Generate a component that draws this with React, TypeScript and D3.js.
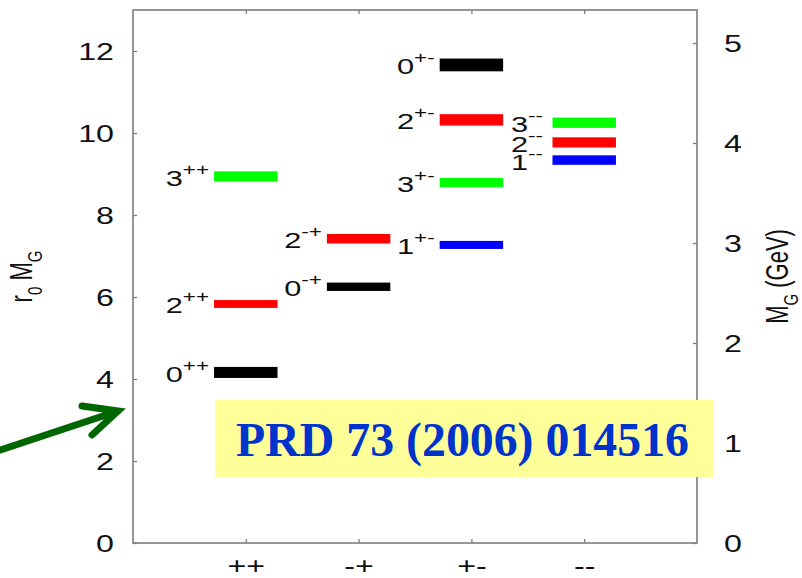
import { useEffect, useRef } from "react"
import * as d3 from "d3"

// glueball spectrum, r0 * mass, grouped by PC
const categories = ["++", "-+", "+-", "--"]
const spins = [0, 2, 3, 0, 2, 0, 2, 3, 1, 3, 2, 1]
const parities = ["++", "++", "++", "-+", "-+", "+-", "+-", "+-", "+-", "--", "--", "--"]
const masses = [4.16, 5.83, 8.94, 6.25, 7.42, 11.66, 10.32, 8.79, 7.27, 10.25, 9.77, 9.34]
const statErrors = [0.11, 0.05, 0.06, 0.06, 0.07, 0.07, 0.07, 0.03, 0.04, 0.04, 0.04, 0.04]
const sysErrors = [0.04, 0.06, 0.09, 0.06, 0.07, 0.12, 0.10, 0.09, 0.07, 0.10, 0.10, 0.09]
const leftTicks = [0, 2, 4, 6, 8, 10, 12]
const rightTicks = [0, 1, 2, 3, 4, 5]
const r0Inverse = 0.41 // GeV
const reference = "PRD 73 (2006) 014516"

const svgWidth = 802
const svgHeight = 578
const marginLeft = 133
const marginRight = 105
const marginTop = 10
const marginBottom = 35
const stretch = 1.4
const fontSans = "'Liberation Sans', Arial, Helvetica, sans-serif"
const frameColor = "#7c7c7c"
const spinColors = ["#000000", "#0000ff", "#ff0000", "#00ff00"]
const labelOffsets = [0.71, 0.66, 0.66, 0.65]

const App = () => {
  const svgRef = useRef<SVGSVGElement>(null)

  useEffect(() => {
    const svg = d3.select(svgRef.current)
    svg.selectAll("*").remove()
    svg
      .attr("width", svgWidth)
      .attr("height", svgHeight)
      .attr("viewBox", [0, 0, svgWidth, svgHeight].join(" "))
      .attr("font-family", fontSans)

    svg.append("rect").attr("width", svgWidth).attr("height", svgHeight).attr("fill", "#fff")

    // scales
    const x = d3.scaleLinear()
      .domain([0, categories.length + 1])
      .range([marginLeft, svgWidth - marginRight])
    const y = d3.scaleLinear()
      .domain([0, 13])
      .range([svgHeight - marginBottom, marginTop])
    const yGeV = d3.scaleLinear()
      .domain(y.domain().map(v => v * r0Inverse))
      .range(y.range())

    const styleAxis = (g: any, dx: number, dy: number) => g
      .call((g: any) => g.select(".domain").remove())
      .call((g: any) => g.selectAll(".tick line").attr("stroke", frameColor).attr("stroke-width", 1.3))
      .call((g: any) => g.selectAll(".tick text")
        .attr("x", null).attr("y", null).attr("dy", null)
        .attr("fill", "#111")
        .attr("font-size", 23)
        .attr("font-family", fontSans)
        .attr("transform", `translate(${dx},${dy}) scale(${stretch},1)`))

    // axes
    svg.append("g")
      .attr("transform", `translate(${marginLeft},0)`)
      .call(d3.axisLeft(y).tickValues(leftTicks).tickFormat(d3.format("d")).tickSizeInner(-4).tickSizeOuter(0))
      .call((g: any) => styleAxis(g, -19, 8))
    svg.append("g")
      .attr("transform", `translate(${svgWidth - marginRight},0)`)
      .call(d3.axisRight(yGeV).tickValues(rightTicks).tickFormat(d3.format("d")).tickSizeInner(-4).tickSizeOuter(0))
      .call((g: any) => styleAxis(g, 27, 8))
    svg.append("g")
      .attr("transform", `translate(0,${svgHeight - marginBottom})`)
      .call(d3.axisBottom(x).tickValues(d3.range(1, categories.length + 1))
        .tickFormat((d: any) => categories[d - 1]).tickSizeInner(-4).tickSizeOuter(0))
      .call((g: any) => styleAxis(g, 0, 31))
    svg.append("g")
      .attr("transform", `translate(0,${marginTop})`)
      .call(d3.axisTop(x).tickValues(d3.range(1, categories.length + 1))
        .tickFormat(() => "").tickSizeInner(-4).tickSizeOuter(0))
      .call((g: any) => styleAxis(g, 0, 0))

    // frame
    svg.append("rect")
      .attr("x", x(0))
      .attr("y", y(13))
      .attr("width", x(categories.length + 1) - x(0))
      .attr("height", y(0) - y(13))
      .attr("fill", "none")
      .attr("stroke", frameColor)
      .attr("stroke-width", 1.6)

    const states = masses.map((m, i) => ({
      spin: spins[i],
      pc: parities[i],
      cat: categories.indexOf(parities[i]) + 1,
      mass: m,
      err: Math.sqrt(statErrors[i] ** 2 + sysErrors[i] ** 2),
    }))

    // levels
    svg.append("g")
      .selectAll("rect")
      .data(states)
      .join("rect")
        .attr("x", d => x(d.cat - 0.275))
        .attr("width", d => x(d.cat + 0.275) - x(d.cat - 0.275))
        .attr("y", d => y(d.mass + d.err))
        .attr("height", d => y(d.mass - d.err) - y(d.mass + d.err))
        .attr("fill", d => spinColors[d.spin])
        .attr("stroke", d => spinColors[d.spin])
        .attr("stroke-width", 1.4)

    // level labels J^PC
    const labels = svg.append("g")
      .selectAll("text")
      .data(states)
      .join("text")
        .attr("transform", d => `translate(${x(d.cat - labelOffsets[d.cat - 1])},${y(d.mass) + 9.5}) scale(${stretch},1)`)
        .attr("font-size", 22)
        .attr("fill", "#111")
    labels.append("tspan").text(d => d.spin)
    labels.append("tspan").attr("font-size", 16).attr("dy", -11).text(d => d.pc)

    // axis titles
    const leftTitle = svg.append("text")
      .attr("transform", `translate(32,${(y(0) + y(13)) / 2}) scale(${stretch},1) rotate(-90)`)
      .attr("text-anchor", "middle")
      .attr("font-size", 22)
      .attr("fill", "#111")
    leftTitle.append("tspan").text("r")
    leftTitle.append("tspan").attr("font-size", 15).attr("dy", 7).text("0")
    leftTitle.append("tspan").attr("dy", -7).text(" M")
    leftTitle.append("tspan").attr("font-size", 15).attr("dy", 7).text("G")

    const rightTitle = svg.append("text")
      .attr("transform", `translate(788,${(y(0) + y(13)) / 2}) scale(${stretch},1) rotate(-90)`)
      .attr("text-anchor", "middle")
      .attr("font-size", 22)
      .attr("fill", "#111")
    rightTitle.append("tspan").text("M")
    rightTitle.append("tspan").attr("font-size", 15).attr("dy", 7).text("G")
    rightTitle.append("tspan").attr("dy", -7).text(" (GeV)")

    // reference sticker
    const boxLeft = x(0.727)
    const boxRight = x(5.142)
    svg.append("rect")
      .attr("x", boxLeft)
      .attr("y", y(3.49))
      .attr("width", boxRight - boxLeft)
      .attr("height", y(1.61) - y(3.49))
      .attr("fill", "#ffff99")
    svg.append("text")
      .attr("x", boxLeft + 21)
      .attr("y", y(2.13))
      .attr("font-family", "'Liberation Serif', 'Times New Roman', serif")
      .attr("font-weight", "bold")
      .attr("font-size", 48)
      .attr("fill", "#0033cc")
      .attr("textLength", 453)
      .attr("lengthAdjust", "spacingAndGlyphs")
      .text(reference)

    // arrow pointing at the axis
    const tipX = x(0) - 15
    const tipY = y(3.22)
    svg.append("path")
      .attr("d", `M${tipX - 140},${tipY + 46.5}L${tipX},${tipY}M${tipX - 36},${tipY - 5}L${tipX},${tipY}L${tipX - 26},${tipY + 24}`)
      .attr("fill", "none")
      .attr("stroke", "#006600")
      .attr("stroke-width", 7)
      .attr("stroke-linecap", "round")
      .attr("stroke-linejoin", "miter")
  }, [])

  return (
    <svg ref={svgRef} style={{ position: "absolute", left: 0, top: 0, display: "block" }} />
  )
}

export default App
